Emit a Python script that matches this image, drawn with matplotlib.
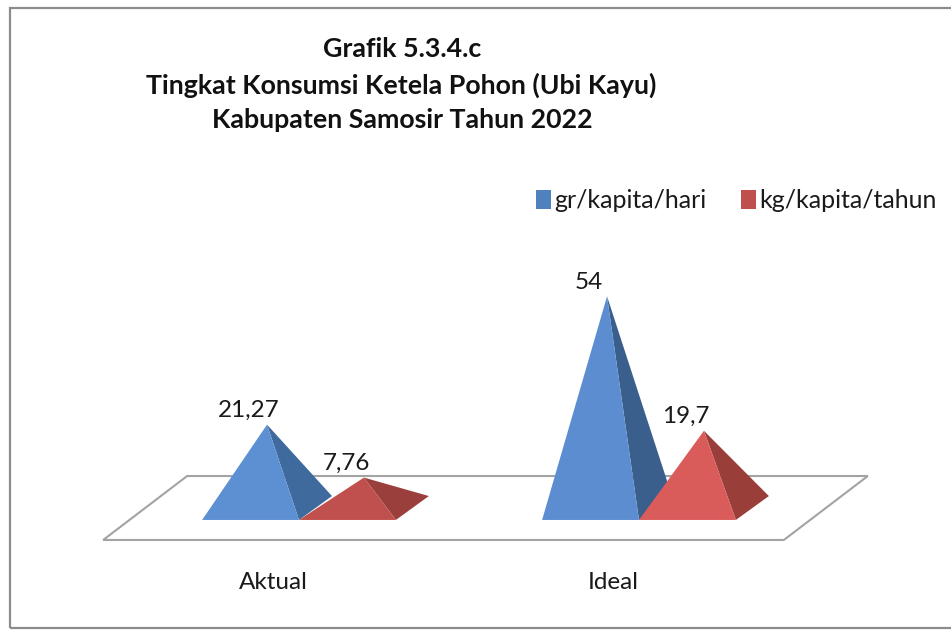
import matplotlib
matplotlib.use("Agg")
import matplotlib.pyplot as plt
from matplotlib.patches import Patch, Polygon, Rectangle

categories = ["Aktual", "Ideal"]
series_names = ["gr/kapita/hari", "kg/kapita/tahun"]
gr_per_day = [21.27, 54]
kg_per_year = [7.76, 19.7]
gr_labels = ["21,27", "54"]
kg_labels = ["7,76", "19,7"]

title_lines = ["Grafik 5.3.4.c", "Tingkat Konsumsi Ketela Pohon (Ubi Kayu)",
               "Kabupaten Samosir Tahun 2022"]

BAR_W = 0.285       # pyramid base width, in category units
DEPTH_X = 0.097     # oblique offset of the base depth
DEPTH_Y = 6.1

plt.rcParams["font.family"] = ["Lato", "DejaVu Sans"]
fig = plt.figure(figsize=(9.51, 6.3), dpi=100)
ax = fig.add_axes([0, 0, 1, 1])
ax.set_xlim(-299 / 340, 652 / 340)
ax.set_ylim(-122 / 3.92, 508 / 3.92)
ax.axis("off")

# outer chart border, the right side is cut off in the source
fig.add_artist(Rectangle((10 / 951, 1 - 628 / 630), 960 / 951, 620 / 630, transform=fig.transFigure,
                         fill=False, ec="#8c8c8c", lw=1.6))

# floor of the 3d chart
floor = [(-0.576, -8.16), (1.426, -8.16), (1.673, 8.16), (-0.329, 8.16)]
ax.add_patch(Polygon(floor, closed=True, fc="white", ec="#a3a3a3", lw=1.5, zorder=1))


def pyramid(left, value, front_color, side_color, label):
    right = left + BAR_W
    apex = (left + BAR_W / 2 + DEPTH_X / 2, value)
    front_y = -DEPTH_Y / 2
    back = (right + DEPTH_X, DEPTH_Y / 2)
    ax.add_patch(Polygon([apex, (right, front_y), back], closed=True, fc=side_color, ec="none", zorder=2))
    ax.add_patch(Polygon([apex, (left, front_y), (right, front_y)], closed=True, fc=front_color, ec="none", zorder=2))
    ax.annotate(label, apex, xytext=(-18, 14), textcoords="offset pixels", ha="center", va="center",
                fontsize=17.5, color="#1a1a1a", zorder=3)


gr_fronts = ["#5c90d3", "#5b8dd0"]
gr_sides = ["#3f6a9d", "#3a5f8c"]
kg_fronts = ["#c0504d", "#d95c5a"]
kg_sides = ["#9b3f3c", "#9a3e3a"]

for i, cat in enumerate(categories):
    pyramid(i - BAR_W, gr_per_day[i], gr_fronts[i], gr_sides[i], gr_labels[i])
    pyramid(i, kg_per_year[i], kg_fronts[i], kg_sides[i], kg_labels[i])
    ax.text(i - 0.076, -18.9, cat, ha="center", va="center", fontsize=17.5, color="#1a1a1a")

for line, px_x, px_y in zip(title_lines, (402, 401, 402), (49, 85, 120)):
    fig.text(px_x / 951, 1 - px_y / 630, line, ha="center", va="center", fontsize=19.3,
             fontweight="bold", color="#111111")

handles = [Patch(fc="#4f81bd", ec="none"), Patch(fc="#c0504d", ec="none")]
fig.legend(handles, series_names, loc="center left", bbox_to_anchor=(513 / 951, 1 - 201 / 630), ncol=2,
           frameon=False, fontsize=18, handlelength=0.62, handleheight=0.8, handletextpad=0.14,
           columnspacing=1.36, labelcolor="#1a1a1a")

fig.savefig("out.png", dpi=100)
